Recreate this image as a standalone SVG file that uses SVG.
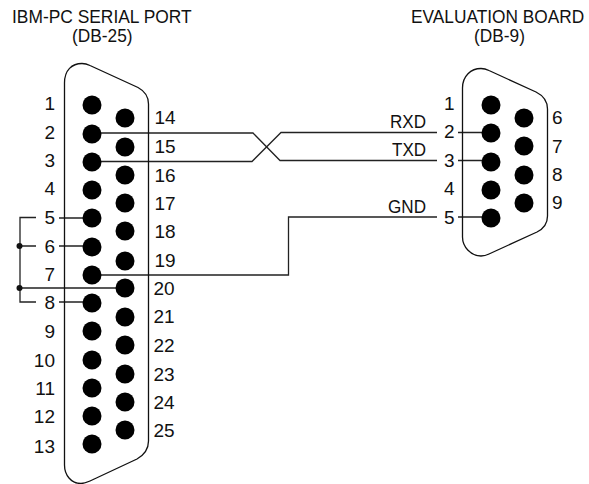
<svg xmlns="http://www.w3.org/2000/svg" width="589" height="484" viewBox="0 0 589 484">
<style>
text{font-family:"Liberation Sans",Arial,sans-serif;fill:#111}
.n{font-size:19px}
.t{font-size:19px}
.l{font-size:17.500px}
.e{text-anchor:end}
.s{fill:none;stroke:#111;stroke-width:1.300}
.w{fill:none;stroke:#222;stroke-width:1.300}
.p{fill:#000}
</style>
<rect width="589" height="484" fill="#fff"/>
<g id="titles">
<text class="t" transform="translate(12 22.500) scale(.915 1)">IBM-PC SERIAL PORT</text>
<text class="t" transform="translate(72 42) scale(.91 1)">(DB-25)</text>
<text class="t" transform="translate(411 22.500) scale(.91 1)">EVALUATION BOARD</text>
<text class="t" transform="translate(474 42) scale(.91 1)">(DB-9)</text>
</g>
<g id="connectors">
<path class="w" d="M92 133H253L280 160.500H437"/>
<path class="w" d="M92 161.500H252L281 132.500H437"/>
<path class="w" d="M458 132.500H482M458 160.500H482M458 217H482"/>
<path class="w" d="M92 275H288.500V217H437"/>
<path class="w" d="M36 217.500H20V302H36M36 246H20M20 288H125"/>
<path class="w" d="M59 218H92M59 246H92M59 302H92"/>
<circle cx="19.500" cy="246" r="3" fill="#111"/>
<circle cx="19.500" cy="288" r="3" fill="#111"/>
</g>
<g id="db25">
<path class="s" d="M64.500 83C64.500 70 72 63.500 82 63.500C85 63.500 87 64 90 65.500L138 87.500C144.500 91 148.500 96 148.500 104V441C148.500 449 144 455 137 459L90 481C86 482.800 84 483.500 81 483.500C71 483.500 64.500 475 64.500 465Z"/>
<g class="p">
<circle cx="92" cy="105" r="9.500"/><circle cx="92" cy="134" r="9.500"/><circle cx="92" cy="162" r="9.500"/><circle cx="92" cy="190" r="9.500"/><circle cx="92" cy="218" r="9.500"/><circle cx="92" cy="247" r="9.500"/><circle cx="92" cy="275" r="9.500"/><circle cx="92" cy="303" r="9.500"/><circle cx="92" cy="331" r="9.500"/><circle cx="92" cy="360" r="9.500"/><circle cx="92" cy="388" r="9.500"/><circle cx="92" cy="416" r="9.500"/><circle cx="92" cy="444" r="9.500"/>
<circle cx="125" cy="118" r="9.500"/><circle cx="125" cy="147" r="9.500"/><circle cx="125" cy="175" r="9.500"/><circle cx="125" cy="203" r="9.500"/><circle cx="125" cy="231" r="9.500"/><circle cx="125" cy="261" r="9.500"/><circle cx="125" cy="288" r="9.500"/><circle cx="125" cy="317" r="9.500"/><circle cx="125" cy="345" r="9.500"/><circle cx="125" cy="374" r="9.500"/><circle cx="125" cy="402" r="9.500"/><circle cx="125" cy="430" r="9.500"/>
</g>
<g class="n">
<text class="e" x="55" y="110">1</text><text class="e" x="55" y="138.500">2</text><text class="e" x="55" y="167">3</text><text class="e" x="55" y="195">4</text><text class="e" x="55" y="224">5</text><text class="e" x="55" y="253">6</text><text class="e" x="55" y="281">7</text><text class="e" x="55" y="309">8</text><text class="e" x="55" y="338">9</text><text class="e" x="55" y="367">10</text><text class="e" x="55" y="394.500">11</text><text class="e" x="55" y="423">12</text><text class="e" x="55" y="452.500">13</text>
<text x="154.500" y="124">14</text><text x="154.500" y="153">15</text><text x="154.500" y="181.500">16</text><text x="154.500" y="210">17</text><text x="154.500" y="237.500">18</text><text x="154.500" y="267">19</text><text x="153.500" y="295">20</text><text x="153.500" y="323">21</text><text x="153.500" y="352">22</text><text x="153.500" y="381">23</text><text x="153.500" y="409">24</text><text x="153.500" y="437">25</text>
</g>
</g>
<g id="db9">
<path class="s" d="M462.500 88C462.500 76 471 68.500 481 68.500C484 68.500 486 69 489 70.500L536 92C544 96 547.500 101 547.500 109V216C547.500 224 543 229 537 232L489 254C486 255.500 484 256 481 256C471 256 462.500 247 462.500 237Z"/>
<g class="p">
<circle cx="491" cy="105" r="9.500"/><circle cx="491" cy="133" r="9.500"/><circle cx="491" cy="162" r="9.500"/><circle cx="491" cy="190" r="9.500"/><circle cx="491" cy="218" r="9.500"/>
<circle cx="524" cy="118" r="9.500"/><circle cx="524" cy="146" r="9.500"/><circle cx="524" cy="175" r="9.500"/><circle cx="524" cy="203" r="9.500"/>
</g>
<g class="n">
<text class="e" x="454.500" y="110">1</text><text class="e" x="454.500" y="138">2</text><text class="e" x="454.500" y="167">3</text><text class="e" x="454.500" y="195">4</text><text class="e" x="454.500" y="224">5</text>
<text x="552" y="124">6</text><text x="552" y="153">7</text><text x="552" y="181">8</text><text x="552" y="209">9</text>
</g>
</g>
<g id="labels">
<text class="l" x="390" y="127.500" textLength="36" lengthAdjust="spacingAndGlyphs">RXD</text>
<text class="l" x="392" y="155.500" textLength="34" lengthAdjust="spacingAndGlyphs">TXD</text>
<text class="l" x="388" y="212.500" textLength="38" lengthAdjust="spacingAndGlyphs">GND</text>
</g>
</svg>
